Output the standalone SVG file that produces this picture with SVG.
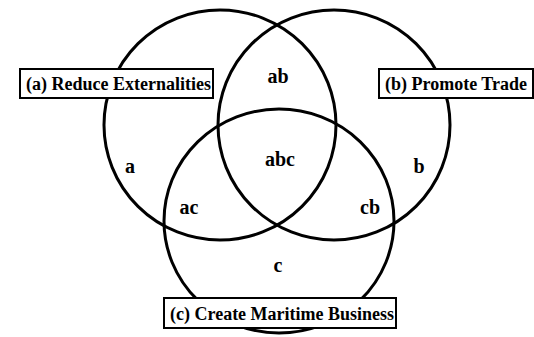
<svg xmlns="http://www.w3.org/2000/svg" width="534" height="337" viewBox="0 0 534 337">
<style>
.c{fill:none;stroke:#000;stroke-width:3}
.box{fill:#fff;stroke:#000;stroke-width:2}
.t{font-family:"Liberation Serif","Times New Roman",serif;font-weight:bold;font-size:18px;fill:#000}
.l{font-family:"Liberation Serif","Times New Roman",serif;font-weight:bold;font-size:20px;fill:#000;text-anchor:middle}
</style>
<rect width="534" height="337" fill="#fff"/>
<g id="connectors"></g>
<g id="circleA"><ellipse class="c" cx="220" cy="125" rx="116" ry="115"/></g>
<g id="circleB"><ellipse class="c" cx="334" cy="125" rx="116" ry="115"/></g>
<g id="circleC"><ellipse class="c" cx="279" cy="221" rx="115" ry="112"/></g>
<g id="labels">
<text class="l" x="278" y="83">ab</text>
<text class="l" x="280" y="166">abc</text>
<text class="l" x="130" y="173">a</text>
<text class="l" x="189" y="214">ac</text>
<text class="l" x="419" y="173">b</text>
<text class="l" x="370" y="214">cb</text>
<text class="l" x="278" y="272">c</text>
</g>
<g id="boxA"><rect class="box" x="20" y="69" width="193" height="29"/><text class="t" x="26" y="90">(a) Reduce Externalities</text></g>
<g id="boxB"><rect class="box" x="379" y="69" width="154" height="29"/><text class="t" x="385" y="90">(b) Promote Trade</text></g>
<g id="boxC"><rect class="box" x="164" y="298" width="232" height="30"/><text class="t" x="170" y="320">(c) Create Maritime Business</text></g>
</svg>
